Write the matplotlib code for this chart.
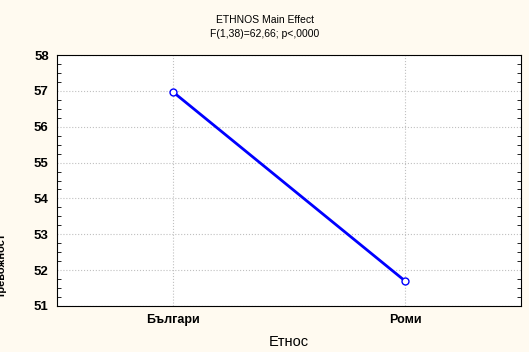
import matplotlib
matplotlib.use('Agg')
import matplotlib.pyplot as plt
from matplotlib.ticker import MultipleLocator

plt.rcParams['font.family'] = ['Liberation Sans', 'DejaVu Sans']

# данни
categories = ['Българи', 'Роми']
means = [56.97, 51.70]
y_ticks = [51, 52, 53, 54, 55, 56, 57, 58]

fig = plt.figure(figsize=(5.29, 3.52), dpi=100)
fig.patch.set_facecolor('#FFFAF0')
ax = fig.add_axes([0.1078, 0.1307, 0.877, 0.713])
ax.set_facecolor('white')

x = list(range(len(categories)))
ax.plot(x, means, color='#0000FF', lw=2, marker='o', ms=5,
        mfc='white', mec='#0000FF', mew=1, zorder=3)

ax.set_xlim(-0.5, 1.5)
ax.set_ylim(51, 58)
ax.set_xticks(x)
ax.set_xticklabels(categories, fontsize=9, fontweight='bold')
ax.set_yticks(y_ticks)
ax.set_yticklabels([str(t) for t in y_ticks], fontsize=9.5, fontweight='bold')
ax.yaxis.set_minor_locator(MultipleLocator(0.25))
ax.tick_params(axis='both', which='major', length=0, pad=6)
ax.tick_params(axis='y', which='minor', direction='in', length=3,
               left=True, right=True, width=0.6)
ax.grid(True, which='major', color='#c0c0c0', linestyle=':', linewidth=0.8)
for s in ax.spines.values():
    s.set_linewidth(0.8)

ax.set_xlabel('Етнос', fontsize=10.5, labelpad=6)
fig.text(0.5, 0.943, 'ETHNOS Main Effect', ha='center', va='center', fontsize=7.5)
fig.text(0.5, 0.903, 'F(1,38)=62,66; p<,0000', ha='center', va='center', fontsize=7.5)
# отрязан надпис на оста Y
fig.text(0.004, 0.245, 'Тревожност', rotation=90, ha='center', va='center',
         fontsize=8, fontweight='bold')

fig.savefig('out.png', dpi=100, facecolor=fig.get_facecolor())
